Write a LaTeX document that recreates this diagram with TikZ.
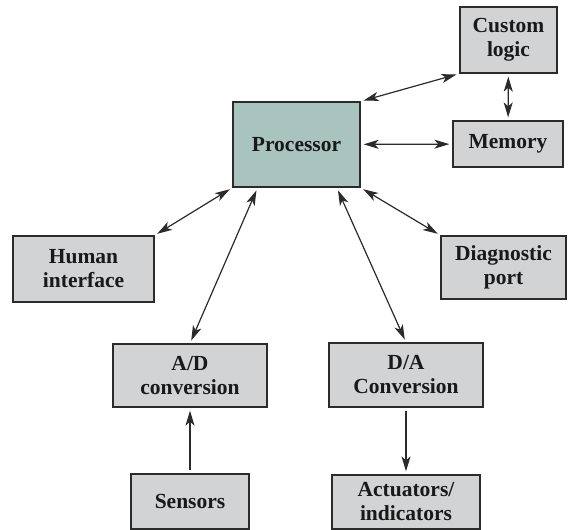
\documentclass[tikz,border=0pt]{standalone}
\usepackage{fontspec}
\setmainfont{Liberation Serif}
\usepackage[dvipsnames]{xcolor}
\usetikzlibrary{arrows.meta}
\definecolor{boxgray}{HTML}{D1D3D4}
\definecolor{proccolor}{HTML}{A9C3BF}
\definecolor{edgegray}{HTML}{2B2B2B}

\begin{document}
\begin{tikzpicture}[x=1pt,y=-1pt,>={Stealth[length=15pt,width=9pt,inset=4pt]},<->,shorten >=3pt,shorten <=3pt,line width=1.2pt,main node/.style={rectangle,draw=edgegray,line width=1.3pt,fill=boxgray,align=center,inner sep=0pt,text=black!90,font=\bfseries\fontsize{21.5}{24}\selectfont}]
                \useasboundingbox (0,0) rectangle (573,530);
                \node[main node,fill=proccolor,minimum width=127pt,minimum height=85pt] (proc) at (296.5,144.5) {Processor};
                \node[main node,minimum width=97pt,minimum height=66pt] (custom) at (508.5,40) {Custom\\logic};
                \node[main node,minimum width=110pt,minimum height=46pt] (mem) at (508,144) {Memory};
                \node[main node,minimum width=141pt,minimum height=66pt] (human) at (83.5,269) {Human\\interface};
                \node[main node,minimum width=125pt,minimum height=63pt] (diag) at (503.5,267.5) {Diagnostic\\port};
                \node[main node,minimum width=154pt,minimum height=63pt] (ad) at (190,375.5) {A/D\\conversion};
                \node[main node,minimum width=154pt,minimum height=64pt] (da) at (406,375) {D/A\\Conversion};
                \node[main node,minimum width=118pt,minimum height=55pt] (sens) at (190,501.5) {Sensors};
                \node[main node,minimum width=148pt,minimum height=54pt] (act) at (406,502) {Actuators/\\indicators};
    
                \path[every edge/.append style={draw=edgegray}]
                    (proc.north east) edge (custom.south west)
                    (proc) edge (mem)
                    (custom) edge (mem)
                    (human.north east) edge (proc.south west)
                    (proc.south east) edge (diag.north west)
                    (ad.north) edge (proc.-132)
                    (da.north) edge (proc.-47)
                    (sens) edge[->] (ad)
                    (da) edge[->] (act)
                    ;
            \end{tikzpicture}
\end{document}
